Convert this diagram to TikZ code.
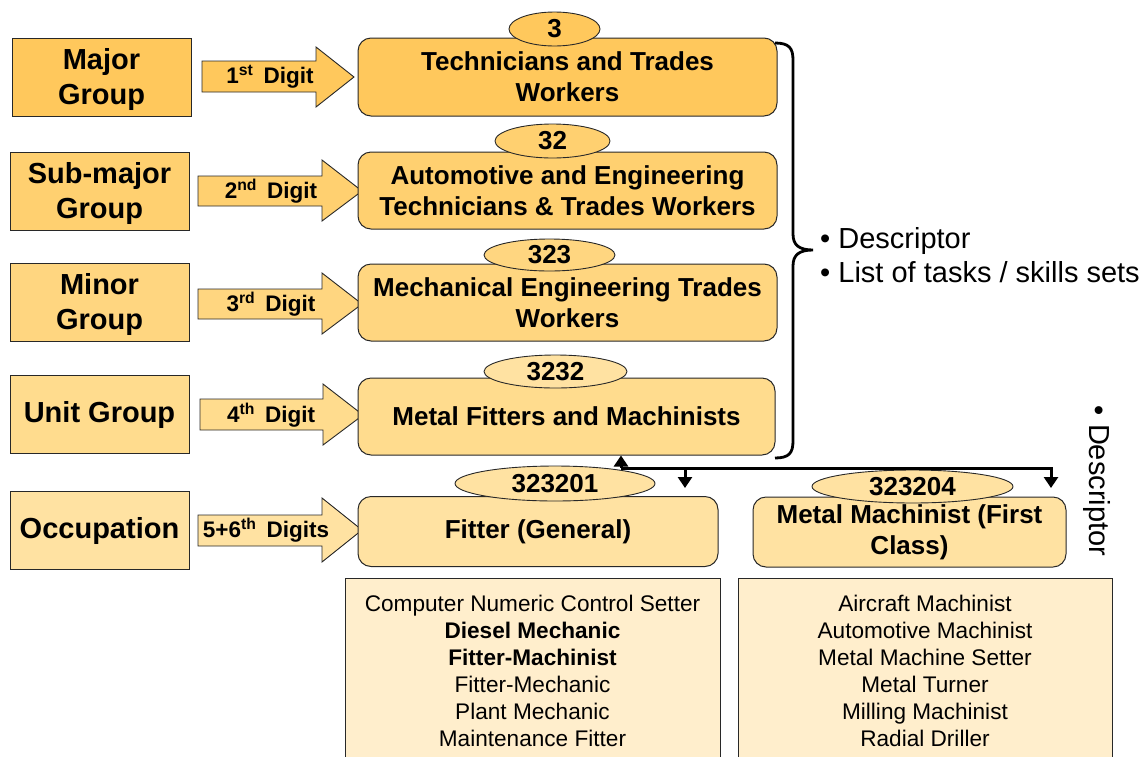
\documentclass[tikz,border=0pt]{standalone}
\usepackage{fontspec}
\setmainfont{Liberation Sans}
\usetikzlibrary{shapes.geometric,arrows.meta}
\definecolor{cA}{RGB}{255,200,92}
\definecolor{cB}{RGB}{255,208,112}
\definecolor{cC}{RGB}{255,214,128}
\definecolor{cD}{RGB}{255,220,142}
\definecolor{cE}{RGB}{255,226,162}
\definecolor{cL}{RGB}{255,238,204}
\definecolor{edge}{RGB}{40,40,40}
\tikzset{
  grp/.style={draw=edge, line width=1pt, minimum width=179pt, minimum height=78pt, inner sep=0pt, align=center, font=\bfseries\fontsize{29}{35}\selectfont},
  grptxt/.style={inner sep=0pt, align=center, font=\bfseries\fontsize{29}{35}\selectfont},
  lvl/.style={draw=edge, line width=1pt, rounded corners=13pt, minimum height=77pt, inner sep=0pt, align=center, font=\bfseries\fontsize{26}{31}\selectfont},
  code/.style={ellipse, draw=edge, line width=0.9pt, inner sep=0pt, font=\bfseries\fontsize{26}{26}\selectfont},
  blk/.style={draw=edge, line width=0.9pt},
  lbl/.style={inner sep=0pt, font=\bfseries\fontsize{22.5}{22.5}\selectfont},
  lst/.style={draw=edge, line width=0.9pt, fill=cL},
  lsttxt/.style={inner sep=0pt, align=center, font=\fontsize{22.6}{27}\selectfont},
  conn/.style={line width=3pt},
  tipd/.style={-{Triangle[width=14pt,length=11pt]}},
  note/.style={inner sep=0pt, align=left, font=\fontsize{29}{34}\selectfont},
}
\begin{document}
\begin{tikzpicture}[x=1pt,y=-1pt]
\useasboundingbox (0,0) rectangle (1146,756);

% left group boxes
\node[grp, fill=cA] (g1) at (101.5,77) {};
\node[grptxt] (g1t) at (101.5,79) {Major\\Group};
\node[grp, fill=cB] (g2) at (99.5,191) {};
\node[grptxt] (g2t) at (99.5,193) {Sub-major\\Group};
\node[grp, fill=cC] (g3) at (99.5,302) {};
\node[grptxt] (g3t) at (99.5,304) {Minor\\Group};
\node[grp, fill=cD] (g4) at (99.5,414.5) {Unit Group};
\node[grp, fill=cE] (g5) at (99.5,530.5) {Occupation};

% block arrows
\draw[blk, fill=cA] (202,61) -- (316,61) -- (316,47) -- (354,77) -- (316,107) -- (316,92) -- (202,92) -- cycle;
\draw[blk, fill=cB] (198,176) -- (322,176) -- (322,160) -- (362,191) -- (322,221) -- (322,206) -- (198,206) -- cycle;
\draw[blk, fill=cC] (198,289) -- (322,289) -- (322,273) -- (362,304) -- (322,334) -- (322,319) -- (198,319) -- cycle;
\draw[blk, fill=cD] (200,399) -- (323,399) -- (323,384) -- (363,415) -- (323,445) -- (323,430) -- (200,430) -- cycle;
\draw[blk, fill=cE] (198,515) -- (322,515) -- (322,498) -- (362,530) -- (322,562) -- (322,546) -- (198,546) -- cycle;
\node[lbl] (a1) at (270,77) {1\textsuperscript{st}\hspace{0.45em}Digit};
\node[lbl] (a2) at (271,191) {2\textsuperscript{nd}\hspace{0.45em}Digit};
\node[lbl] (a3) at (271,304) {3\textsuperscript{rd}\hspace{0.45em}Digit};
\node[lbl] (a4) at (271,415) {4\textsuperscript{th}\hspace{0.45em}Digit};
\node[lbl] (a5) at (266,530) {5+6\textsuperscript{th}\hspace{0.45em}Digits};

% level boxes
\node[lvl, fill=cA, minimum width=419pt, minimum height=78pt] (l1) at (567.5,77) {Technicians and Trades\\Workers};
\node[lvl, fill=cB, minimum width=419pt] (l2) at (567.5,190.5) {Automotive and Engineering\\Technicians \& Trades Workers};
\node[lvl, fill=cC, minimum width=419pt] (l3) at (567.5,302.5) {Mechanical Engineering Trades\\Workers};
\node[lvl, fill=cD, minimum width=417pt] (l4) at (566.5,416.5) {Metal Fitters and Machinists};
\node[lvl, fill=cE, minimum width=360pt, minimum height=70pt] (l5) at (538,531.5) {Fitter (General)};
\node[lvl, fill=cE, minimum width=313pt, minimum height=70pt] (l6) at (909.5,532) {Metal Machinist (First\\Class)};

% code ellipses
\node[code, fill=cA, minimum width=91pt, minimum height=34pt] (e1) at (554.5,29) {3};
\node[code, fill=cB, minimum width=115pt, minimum height=34pt] (e2) at (552.5,141) {32};
\node[code, fill=cC, minimum width=131pt, minimum height=32pt] (e3) at (549.5,255) {323};
\node[code, fill=cE, minimum width=143pt, minimum height=33pt] (e4) at (555.5,371.5) {3232};
\node[code, fill=cE, minimum width=200pt, minimum height=35pt] (e5) at (555,483.5) {323201};
\node[code, fill=cE, minimum width=201pt, minimum height=33pt] (e6) at (912.5,486.5) {323204};

% brace
\draw[line width=2.8pt] (775,43) .. controls (789,43) and (793,48) .. (793,60) -- (793,234)
  .. controls (793,245) and (799,250) .. (813,250)
  .. controls (799,250) and (793,255) .. (793,266) -- (793,441)
  .. controls (793,453) and (789,458) .. (775,458);
\node[note, anchor=west] (n1) at (820,255) {\textbullet\ Descriptor\\\textbullet\ List of tasks / skills sets};

% connectors
\coordinate (J) at (621,468);
\coordinate (K) at (1053,468);
\coordinate (d1) at (685,468);
\coordinate (d2) at (1051,468);
\draw[conn] (J) -- (K);
\draw[conn, tipd] (J) -- (l4.south -| J);
\draw[conn, tipd] (d1) -- ++(0,20);
\draw[conn, tipd] (d2) -- ++(0,20);

\node[note, rotate=-90] (n2) at (1097,481) {\textbullet\ Descriptor};

% lists
\draw[lst] (345,790) -- (345,578) -- (720,578) -- (720,790);
\draw[lst] (738,790) -- (738,578) -- (1112,578) -- (1112,790);
\node[lsttxt, anchor=north] (t1) at (532.5,595) {Computer Numeric Control Setter\\\textbf{Diesel Mechanic}\\\textbf{Fitter-Machinist}\\Fitter-Mechanic\\Plant Mechanic\\Maintenance Fitter};
\node[lsttxt, anchor=north] (t2) at (925,595) {Aircraft Machinist\\Automotive Machinist\\Metal Machine Setter\\Metal Turner\\Milling Machinist\\Radial Driller};
\end{tikzpicture}
\end{document}
